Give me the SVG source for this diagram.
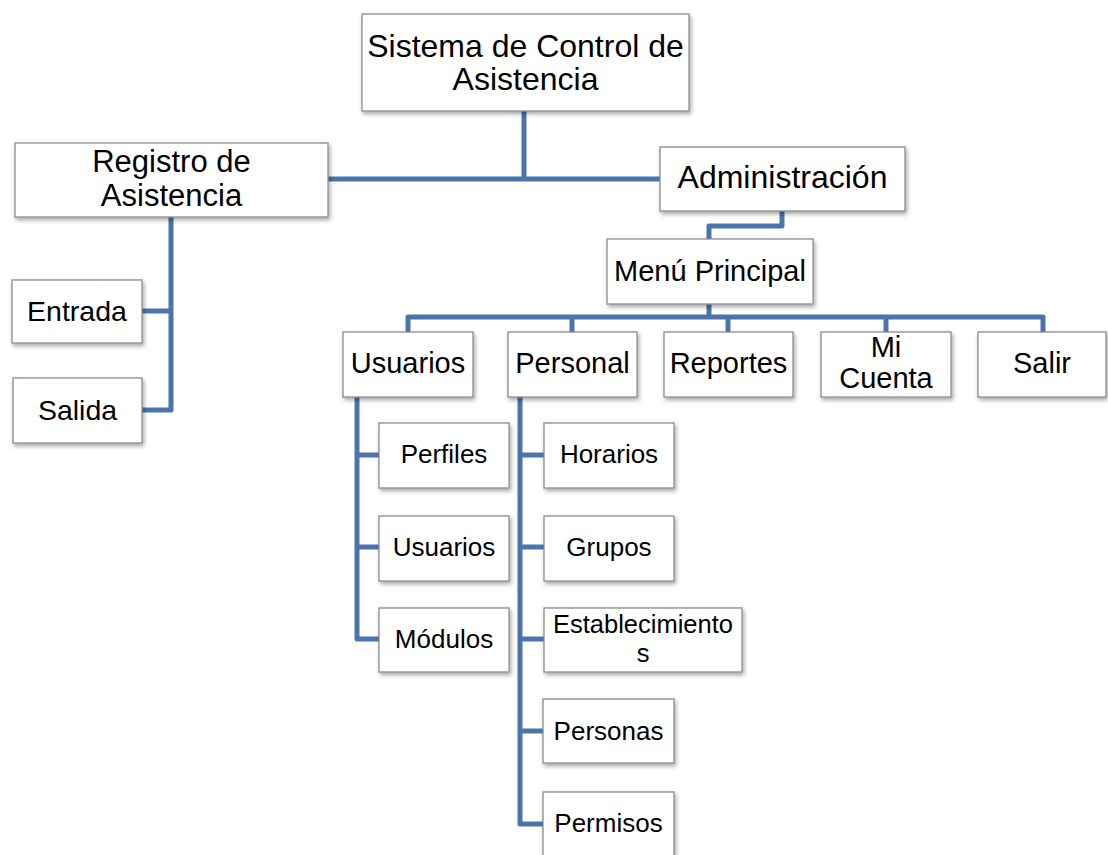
<svg xmlns="http://www.w3.org/2000/svg" width="1108" height="855" viewBox="0 0 1108 855">
<style>
.box{fill:#fff;stroke:#8c8c8c;stroke-width:1.3;filter:url(#sh)}
.t{font-family:"Liberation Sans",Arial,sans-serif;fill:#000;text-anchor:middle}
.c{fill:none;stroke:#4a74ab;stroke-width:5;stroke-linejoin:round;stroke-linecap:butt}
</style>
<defs>
<filter id="sh" x="-10%" y="-10%" width="130%" height="140%">
<feDropShadow dx="1.5" dy="2.5" stdDeviation="2" flood-color="#000" flood-opacity="0.35"/>
</filter>
</defs>
<rect width="1108" height="855" fill="#fff"/>
<g id="connectors" class="c">
<path d="M524 111 V179"/>
<path d="M328 179 H660"/>
<path d="M171 217 V410 H142"/>
<path d="M142 311 H171"/>
<path d="M782 211 V226 H709 V239"/>
<path d="M709 304 V317"/>
<path d="M408 332 V317 H1043 V332"/>
<path d="M572 317 V332"/>
<path d="M728 317 V332"/>
<path d="M886 317 V332"/>
<path d="M357 397 V639 H379"/>
<path d="M357 455 H379"/>
<path d="M357 547 H379"/>
<path d="M520 397 V824 H543"/>
<path d="M520 455 H544"/>
<path d="M520 547 H544"/>
<path d="M520 639 H544"/>
<path d="M520 731 H543"/>
</g>
<g id="n-sistema"><rect class="box" x="362" y="14" width="327" height="97"/><text class="t" font-size="32"><tspan x="525.5" y="57">Sistema de Control de</tspan><tspan x="525.5" y="90">Asistencia</tspan></text></g>
<g id="n-registro"><rect class="box" x="15" y="143" width="313" height="74"/><text class="t" font-size="31"><tspan x="171.5" y="172">Registro de</tspan><tspan x="171.5" y="206">Asistencia</tspan></text></g>
<g id="n-admin"><rect class="box" x="660" y="147" width="245" height="64"/><text class="t" font-size="32" x="782.5" y="188">Administración</text></g>
<g id="n-entrada"><rect class="box" x="12" y="280" width="130" height="63"/><text class="t" font-size="28.5" x="77" y="321">Entrada</text></g>
<g id="n-salida"><rect class="box" x="13" y="378" width="129" height="65"/><text class="t" font-size="28.5" x="77.5" y="420">Salida</text></g>
<g id="n-menu"><rect class="box" x="607" y="239" width="206" height="65"/><text class="t" font-size="29" x="710" y="281">Menú Principal</text></g>
<g id="n-usuarios"><rect class="box" x="343" y="332" width="130" height="65"/><text class="t" font-size="29" x="408" y="373">Usuarios</text></g>
<g id="n-personal"><rect class="box" x="508" y="332" width="129" height="65"/><text class="t" font-size="29" x="572.5" y="373">Personal</text></g>
<g id="n-reportes"><rect class="box" x="664" y="332" width="129" height="65"/><text class="t" font-size="29" x="728.5" y="373">Reportes</text></g>
<g id="n-micuenta"><rect class="box" x="821" y="332" width="130" height="65"/><text class="t" font-size="29"><tspan x="886" y="357">Mi</tspan><tspan x="886" y="388">Cuenta</tspan></text></g>
<g id="n-salir"><rect class="box" x="978" y="332" width="128" height="65"/><text class="t" font-size="29" x="1042" y="373">Salir</text></g>
<g id="n-perfiles"><rect class="box" x="379" y="423" width="130" height="65"/><text class="t" font-size="26" x="444" y="463">Perfiles</text></g>
<g id="n-usuarios2"><rect class="box" x="379" y="516" width="130" height="65"/><text class="t" font-size="26" x="444" y="556">Usuarios</text></g>
<g id="n-modulos"><rect class="box" x="379" y="608" width="130" height="64"/><text class="t" font-size="26" x="444" y="648">Módulos</text></g>
<g id="n-horarios"><rect class="box" x="544" y="423" width="130" height="65"/><text class="t" font-size="26" x="609" y="463">Horarios</text></g>
<g id="n-grupos"><rect class="box" x="544" y="516" width="130" height="65"/><text class="t" font-size="26" x="609" y="556">Grupos</text></g>
<g id="n-establecimientos"><rect class="box" x="544" y="608" width="198" height="64"/><text class="t" font-size="25.5"><tspan x="643" y="633">Establecimiento</tspan><tspan x="643" y="662">s</tspan></text></g>
<g id="n-personas"><rect class="box" x="543" y="699" width="131" height="64"/><text class="t" font-size="26" x="608.5" y="740">Personas</text></g>
<g id="n-permisos"><rect class="box" x="543" y="792" width="131" height="70"/><text class="t" font-size="26" x="608.5" y="832">Permisos</text></g>
</svg>
